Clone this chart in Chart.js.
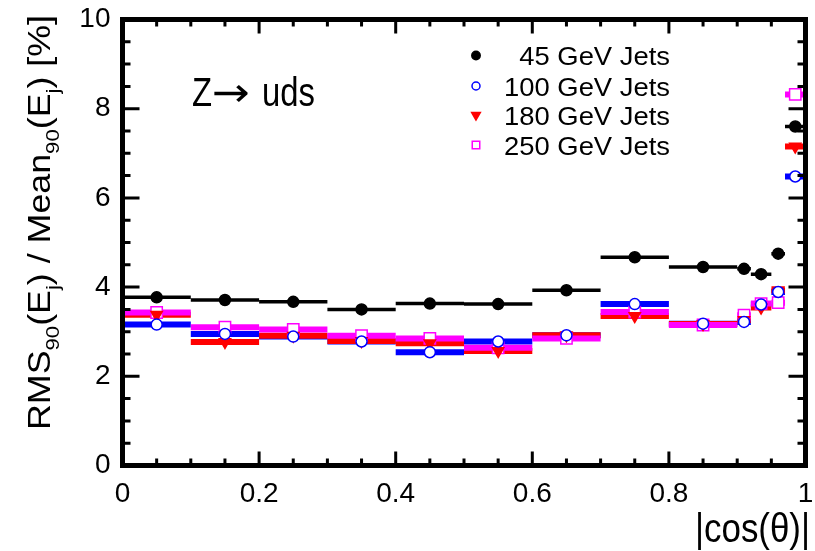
<!DOCTYPE html>
<html>
<head>
<meta charset="utf-8">
<script src="https://cdn.jsdelivr.net/npm/chart.js@4.4.1/dist/chart.umd.min.js"></script>
<style>
  html, body { margin: 0; padding: 0; background: #fff; }
  #wrap { width: 815px; height: 551px; }
</style>
</head>
<body>
<div id="wrap"><canvas id="c" width="815" height="551"></canvas></div>
<script>
// |cos(theta)| bins
const binLo = [0.0, 0.1, 0.2, 0.3, 0.4, 0.5, 0.6, 0.7, 0.8, 0.9, 0.92, 0.95, 0.97];
const binHi = [0.1, 0.2, 0.3, 0.4, 0.5, 0.6, 0.7, 0.8, 0.9, 0.92, 0.95, 0.97, 1.0];
const binMid = [0.05, 0.15, 0.25, 0.35, 0.45, 0.55, 0.65, 0.75, 0.85, 0.91, 0.935, 0.96, 0.985];

// RMS90 / Mean90 [%]
const jets45  = [3.77, 3.71, 3.67, 3.50, 3.63, 3.62, 3.93, 4.67, 4.45, 4.41, 4.29, 4.75, 7.60];
const jets100 = [3.16, 2.95, 2.89, 2.78, 2.54, 2.78, 2.92, 3.62, 3.18, 3.22, 3.61, 3.89, 6.48];
const jets180 = [3.38, 2.77, 2.91, 2.79, 2.74, 2.57, 2.92, 3.35, 3.17, 3.26, 3.54, 3.93, 7.15];
const jets250 = [3.43, 3.10, 3.05, 2.91, 2.85, 2.64, 2.85, 3.44, 3.15, 3.37, 3.63, 3.65, 8.32];

const legendLabels = ['45 GeV Jets', '100 GeV Jets', '180 GeV Jets', '250 GeV Jets'];
const xTicks = [0, 0.2, 0.4, 0.6, 0.8, 1];
const yTicks = [0, 2, 4, 6, 8, 10];

const series = [
  { label: legendLabels[0], values: jets45,  color: '#000000', style: 'circle',   radius: 5.5, rot: 0,   fill: true,  bar: 3.5, lr: 4.2 },
  { label: legendLabels[1], values: jets100, color: '#0000ff', style: 'circle',   radius: 5.5, rot: 0,   fill: false, bar: 6,   lr: 4 },
  { label: legendLabels[2], values: jets180, color: '#ff0000', style: 'triangle', radius: 6.5, rot: 180, fill: true,  bar: 6,   lr: 5 },
  { label: legendLabels[3], values: jets250, color: '#ff00ff', style: 'rect',     radius: 8,   rot: 0,   fill: false, bar: 6,   lr: 5.3 }
];
const barOrder = [0, 1, 2, 3];

const datasets = series.map(s => ({
  label: s.label,
  data: binMid.map((x, i) => ({ x: x, y: s.values[i] })),
  showLine: false,
  pointStyle: s.style,
  pointRadius: s.radius,
  pointRotation: s.rot,
  pointBorderWidth: 1.5,
  pointBorderColor: s.color,
  pointBackgroundColor: s.fill ? s.color : '#ffffff'
}));

const SANS = '"Liberation Sans", Arial, Helvetica, sans-serif';

function richText(ctx, parts, size) {
  // draw a run of text with subscripts, starting at (0,0)
  let x = 0;
  parts.forEach(p => {
    const fs = p.sub ? size * 0.62 : size;
    ctx.font = fs + 'px ' + SANS;
    ctx.fillText(p.t, x, p.sub ? size * 0.28 : 0);
    x += ctx.measureText(p.t).width;
  });
  return x;
}
function richWidth(ctx, parts, size) {
  let w = 0;
  parts.forEach(p => {
    ctx.font = (p.sub ? size * 0.62 : size) + 'px ' + SANS;
    w += ctx.measureText(p.t).width;
  });
  return w;
}

const decor = {
  id: 'decor',
  beforeDatasetsDraw(chart) {
    const { ctx, chartArea: a, scales: { x, y } } = chart;
    ctx.save();
    ctx.beginPath();
    ctx.rect(a.left, a.top, a.right - a.left, a.bottom - a.top);
    ctx.clip();
    ctx.lineCap = 'butt';
    barOrder.forEach(k => {
      const s = series[k];
      ctx.strokeStyle = s.color;
      ctx.lineWidth = s.bar;
      s.values.forEach((v, i) => {
        const py = y.getPixelForValue(v);
        ctx.beginPath();
        ctx.moveTo(x.getPixelForValue(binLo[i]), py);
        ctx.lineTo(x.getPixelForValue(binHi[i]), py);
        ctx.stroke();
      });
    });
    ctx.restore();
  },
  afterDraw(chart) {
    const { ctx, chartArea: a, scales: { x, y } } = chart;
    ctx.save();
    ctx.strokeStyle = '#000';
    ctx.fillStyle = '#000';

    // ticks, inward on all four sides
    ctx.lineWidth = 3;
    ctx.beginPath();
    for (let i = 0; i <= 20; i++) {
      const px = x.getPixelForValue(i * 0.05);
      const len = (i % 4 === 0) ? 14 : 7;
      ctx.moveTo(px, a.bottom); ctx.lineTo(px, a.bottom - len);
      ctx.moveTo(px, a.top); ctx.lineTo(px, a.top + len);
    }
    for (let i = 0; i <= 20; i++) {
      const py = y.getPixelForValue(i * 0.5);
      const len = (i % 4 === 0) ? 17 : 8;
      ctx.moveTo(a.left, py); ctx.lineTo(a.left + len, py);
      ctx.moveTo(a.right, py); ctx.lineTo(a.right - len, py);
    }
    ctx.stroke();

    // frame
    ctx.lineWidth = 5;
    ctx.strokeRect(a.left, a.top, a.right - a.left, a.bottom - a.top);

    // y axis title
    const yParts = [
      { t: 'RMS' }, { t: '90', sub: true }, { t: '(E' }, { t: 'j', sub: true }, { t: ') / Mean' },
      { t: '90', sub: true }, { t: '(E' }, { t: 'j', sub: true }, { t: ') [%]' }
    ];
    const ySize = 36;
    const yLen = richWidth(ctx, yParts, ySize);
    ctx.save();
    ctx.translate(50, 430);
    ctx.rotate(-Math.PI / 2);
    ctx.scale(415 / yLen, 0.85);
    ctx.textBaseline = 'alphabetic';
    richText(ctx, yParts, ySize);
    ctx.restore();

    // x axis title
    ctx.save();
    ctx.font = '40px ' + SANS;
    ctx.textAlign = 'right';
    ctx.translate(810, 542);
    const xw = ctx.measureText('|cos(\u03b8)|').width;
    ctx.scale(115 / xw, 1);
    ctx.fillText('|cos(\u03b8)|', 0, 0);
    ctx.restore();

    // process label: Z -> uds
    ctx.save();
    ctx.textAlign = 'left';
    ctx.font = '40px ' + SANS;
    ctx.save(); ctx.translate(192, 106); ctx.scale(0.82, 1); ctx.fillText('Z', 0, 0); ctx.restore();
    ctx.font = '40px "DejaVu Sans", sans-serif';
    ctx.save(); ctx.translate(212, 106); ctx.scale(38 / ctx.measureText('\u2192').width, 1); ctx.fillText('\u2192', 0, 0); ctx.restore();
    ctx.font = '40px ' + SANS;
    ctx.save(); ctx.translate(262, 106); ctx.scale(0.82, 1); ctx.fillText('uds', 0, 0); ctx.restore();
    ctx.restore();

    // legend
    const rows = [55.5, 86, 115, 145];
    ctx.font = '25px ' + SANS;
    const ls = 166 / ctx.measureText(legendLabels[1]).width;
    series.forEach((s, i) => {
      ctx.fillStyle = s.fill ? s.color : '#ffffff';
      ctx.strokeStyle = s.color;
      ctx.lineWidth = 1.5;
      Chart.helpers.drawPoint(ctx, { pointStyle: s.style, radius: s.lr, rotation: s.rot, borderWidth: 1.5 }, 476, rows[i]);
      ctx.save();
      ctx.fillStyle = '#000';
      ctx.font = '25px ' + SANS;
      ctx.textAlign = 'right';
      ctx.translate(670, rows[i] + 9.5);
      ctx.scale(ls, 1);
      ctx.fillText(s.label, 0, 0);
      ctx.restore();
    });
    ctx.restore();
  }
};

new Chart(document.getElementById('c'), {
  type: 'scatter',
  data: { datasets: datasets },
  options: {
    responsive: false,
    animation: false,
    layout: { padding: { left: 0, right: 5, top: 19.5, bottom: 0 } },
    plugins: { legend: { display: false }, tooltip: { enabled: false } },
    scales: {
      x: {
        type: 'linear', min: 0, max: 1,
        border: { display: false },
        grid: { display: false, drawTicks: false },
        afterBuildTicks: s => { s.ticks = xTicks.map(v => ({ value: v })); },
        afterFit: s => { s.height = 551 - 465.5; s.paddingLeft = 0; s.paddingRight = 0; },
        ticks: {
          padding: 12, color: '#000', maxRotation: 0, autoSkip: false,
          font: { family: SANS, size: 28 },
          callback: v => String(v)
        }
      },
      y: {
        type: 'linear', min: 0, max: 10,
        border: { display: false },
        grid: { display: false, drawTicks: false },
        afterBuildTicks: s => { s.ticks = yTicks.map(v => ({ value: v })); },
        afterFit: s => { s.width = 122.5; s.paddingTop = 0; s.paddingBottom = 0; },
        ticks: {
          padding: 12, color: '#000', autoSkip: false,
          font: { family: SANS, size: 28 },
          callback: v => String(v)
        }
      }
    }
  },
  plugins: [decor]
});
</script>
</body>
</html>
